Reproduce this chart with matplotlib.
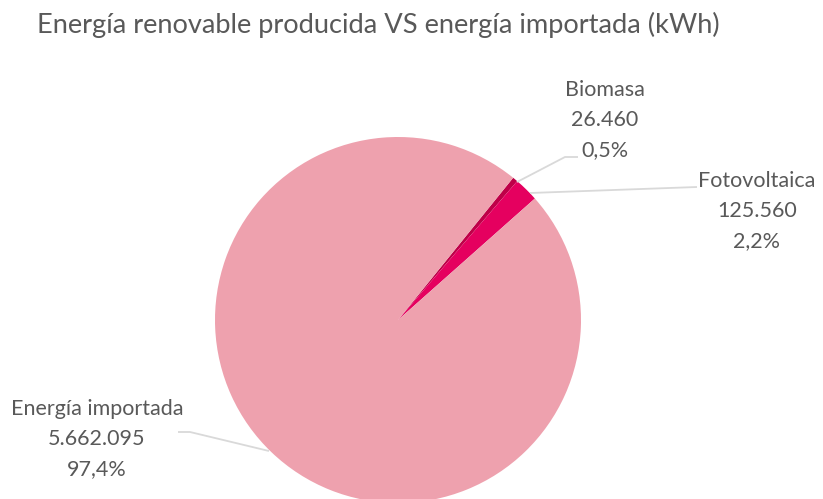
import matplotlib.pyplot as plt

labels = ["Biomasa", "Fotovoltaica", "Energía importada"]
values = [26460, 125560, 5662095]
value_text = ["26.460", "125.560", "5.662.095"]
colors = ["#BE0048", "#E5005F", "#EEA1AE"]

W, H = 823, 499
fig = plt.figure(figsize=(W / 100, H / 100), dpi=100)
ax = fig.add_axes([0, 0, 1, 1])

cx, cy, r = 398, H - 320, 183
ax.pie(values, colors=colors, startangle=51, counterclock=False,
       center=(cx, cy), radius=r, frame=True,
       wedgeprops=dict(linewidth=0))
ax.set_xlim(0, W)
ax.set_ylim(0, H)
ax.set_aspect("equal")
ax.axis("off")

total = sum(values)
pct = [f"{v / total * 100:.1f}%".replace(".", ",") for v in values]

font = "Lato"
grey = "#595959"
line_col = "#D9D9D9"

# label anchors (center x, middle-line y in pixels from top)
anchors = [(605, 120), (757, 211), (97, 439)]
for (x, y), lab, vt, p in zip(anchors, labels, value_text, pct):
    ax.text(x, H - y, f"{lab}\n{vt}\n{p}", ha="center", va="center",
            fontsize=15.5, color=grey, family=font,
            linespacing=1.6)

# leader lines
leaders = [
    [(517, 182), (565, 157), (578, 157)],
    [(530, 193), (697, 187)],
    [(178, 432), (190, 432), (269, 451)],
]
for pts in leaders:
    xs = [p[0] for p in pts]
    ys = [H - p[1] for p in pts]
    ax.plot(xs, ys, color=line_col, linewidth=1.3, solid_capstyle="butt")

fig.text(37 / W, 1 - 25 / H, "Energía renovable producida VS energía importada (kWh)",
         ha="left", va="center", fontsize=19.6, color=grey, family=font)

fig.savefig("out.png", dpi=100)
